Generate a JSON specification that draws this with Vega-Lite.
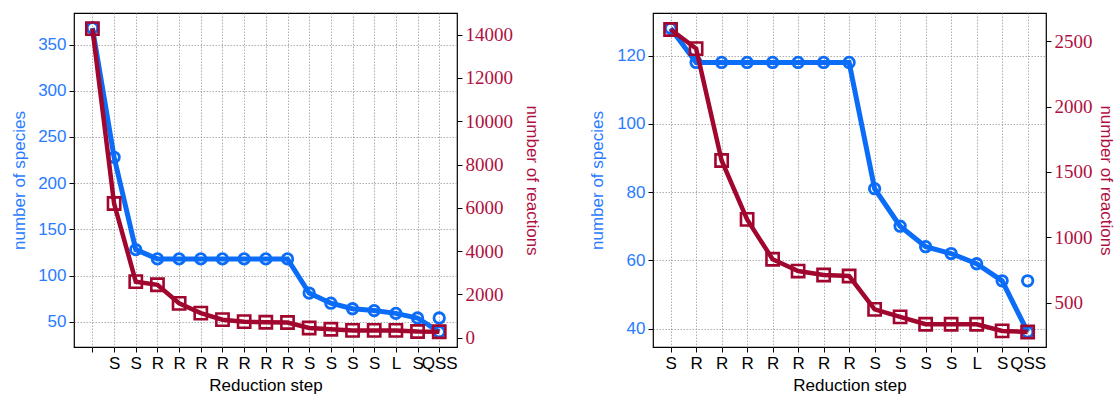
{
  "$schema": "https://vega.github.io/schema/vega-lite/v6.json",
  "padding": {"left": 10, "top": 12, "right": 0, "bottom": 0},
  "background": "white",
  "spacing": 46,
  "config": {
    "view": {"stroke": "black", "strokeWidth": 1.2},
    "font": "Liberation Sans",
    "axis": {
      "grid": true,
      "gridColor": "#9a9a9a",
      "gridDash": [1.5, 1.5],
      "gridWidth": 0.8,
      "domain": false,
      "tickColor": "black",
      "tickSize": 5,
      "tickWidth": 1,
      "labelPadding": 3,
      "labelOverlap": false,
      "labelFlush": false,
      "labelBound": false,
      "labelFont": "Liberation Sans",
      "labelFontSize": 17,
      "titleFont": "Liberation Sans",
      "titleFontSize": 17,
      "titleFontWeight": "normal"
    }
  },
  "hconcat": [
    {
      "width": 383,
      "height": 334,
      "data": {"values": [
        {"step": 0, "species": 368, "reactions": 14280},
        {"step": 1, "species": 228, "reactions": 6200},
        {"step": 2, "species": 128, "reactions": 2590},
        {"step": 3, "species": 118, "reactions": 2444},
        {"step": 4, "species": 118, "reactions": 1588},
        {"step": 5, "species": 118, "reactions": 1137},
        {"step": 6, "species": 118, "reactions": 832},
        {"step": 7, "species": 118, "reactions": 742},
        {"step": 8, "species": 118, "reactions": 712},
        {"step": 9, "species": 118, "reactions": 704},
        {"step": 10, "species": 81, "reactions": 449},
        {"step": 11, "species": 70, "reactions": 391},
        {"step": 12, "species": 64, "reactions": 335},
        {"step": 13, "species": 62, "reactions": 335},
        {"step": 14, "species": 59, "reactions": 335},
        {"step": 15, "species": 54, "reactions": 284},
        {"step": 16, "species": 39, "reactions": 276, "species_extra": 54}
      ]},
      "encoding": {
        "x": {
          "field": "step", "type": "quantitative",
          "scale": {"domain": [-0.85, 16.82], "nice": false, "zero": false},
          "axis": {
            "values": [0,1,2,3,4,5,6,7,8,9,10,11,12,13,14,15,16],
            "labelExpr": "['','S','S','R','R','R','R','R','R','R','S','S','S','S','L','S','QSS'][datum.value]",
            "title": "Reduction step",
            "labelColor": "black",
            "titleColor": "black",
            "titlePadding": 6
          }
        }
      },
      "layer": [
        {
          "encoding": {
            "y": {
              "field": "species", "type": "quantitative",
              "scale": {"domain": [22.6, 384.2], "nice": false, "zero": false},
              "axis": {"orient": "left", "values": [50,100,150,200,250,300,350], "title": "number of species",
                "labelColor": "#2a7bff", "titleColor": "#2a7bff", "titlePadding": 9}
            }
          },
          "layer": [
            {"mark": {"type": "line", "color": "#0a6cf7", "strokeWidth": 5}},
            {"mark": {"type": "point", "shape": "circle", "filled": false, "color": "#0a6cf7", "size": 110, "strokeWidth": 2.8, "opacity": 1}},
            {"mark": {"type": "point", "shape": "circle", "filled": false, "color": "#0a6cf7", "size": 110, "strokeWidth": 2.8, "opacity": 1},
             "encoding": {"y": {"field": "species_extra", "type": "quantitative", "title": "number of species"}}}
          ]
        },
        {
          "encoding": {
            "y": {
              "field": "reactions", "type": "quantitative",
              "scale": {"domain": [-430, 15000], "nice": false, "zero": false},
              "axis": {"orient": "right", "values": [0,2000,4000,6000,8000,10000,12000,14000], "format": "d",
                "title": "number of reactions", "labelFont": "Liberation Serif", "labelFontSize": 19,
                "labelColor": "#b0103f", "titleColor": "#b0103f", "titlePadding": 10}
            }
          },
          "layer": [
            {"mark": {"type": "line", "color": "#a0062e", "strokeWidth": 4.5}},
            {"mark": {"type": "point", "shape": "square", "filled": false, "color": "#a0062e", "size": 150, "strokeWidth": 2.6, "opacity": 1}}
          ]
        }
      ],
      "resolve": {"scale": {"y": "independent"}}
    },
    {
      "width": 393,
      "height": 334,
      "data": {"values": [
        {"step": 0, "species": 128, "reactions": 2590},
        {"step": 1, "species": 118, "reactions": 2444},
        {"step": 2, "species": 118, "reactions": 1588},
        {"step": 3, "species": 118, "reactions": 1137},
        {"step": 4, "species": 118, "reactions": 832},
        {"step": 5, "species": 118, "reactions": 742},
        {"step": 6, "species": 118, "reactions": 712},
        {"step": 7, "species": 118, "reactions": 704},
        {"step": 8, "species": 81, "reactions": 449},
        {"step": 9, "species": 70, "reactions": 391},
        {"step": 10, "species": 64, "reactions": 335},
        {"step": 11, "species": 62, "reactions": 335},
        {"step": 12, "species": 59, "reactions": 335},
        {"step": 13, "species": 54, "reactions": 284},
        {"step": 14, "species": 39, "reactions": 276, "species_extra": 54}
      ]},
      "encoding": {
        "x": {
          "field": "step", "type": "quantitative",
          "scale": {"domain": [-0.69, 14.72], "nice": false, "zero": false},
          "axis": {
            "values": [0,1,2,3,4,5,6,7,8,9,10,11,12,13,14],
            "labelExpr": "['S','R','R','R','R','R','R','R','S','S','S','S','L','S','QSS'][datum.value]",
            "title": "Reduction step",
            "labelColor": "black",
            "titleColor": "black",
            "titlePadding": 6
          }
        }
      },
      "layer": [
        {
          "encoding": {
            "y": {
              "field": "species", "type": "quantitative",
              "scale": {"domain": [34.6, 132.5], "nice": false, "zero": false},
              "axis": {"orient": "left", "values": [40,60,80,100,120], "title": "number of species",
                "labelColor": "#2a7bff", "titleColor": "#2a7bff", "titlePadding": 10}
            }
          },
          "layer": [
            {"mark": {"type": "line", "color": "#0a6cf7", "strokeWidth": 5}},
            {"mark": {"type": "point", "shape": "circle", "filled": false, "color": "#0a6cf7", "size": 110, "strokeWidth": 2.8, "opacity": 1}},
            {"mark": {"type": "point", "shape": "circle", "filled": false, "color": "#0a6cf7", "size": 110, "strokeWidth": 2.8, "opacity": 1},
             "encoding": {"y": {"field": "species_extra", "type": "quantitative", "title": "number of species"}}}
          ]
        },
        {
          "encoding": {
            "y": {
              "field": "reactions", "type": "quantitative",
              "scale": {"domain": [161, 2716], "nice": false, "zero": false},
              "axis": {"orient": "right", "values": [500,1000,1500,2000,2500], "format": "d",
                "title": "number of reactions", "labelFont": "Liberation Serif", "labelFontSize": 19,
                "labelColor": "#b0103f", "titleColor": "#b0103f", "titlePadding": 4}
            }
          },
          "layer": [
            {"mark": {"type": "line", "color": "#a0062e", "strokeWidth": 4.5}},
            {"mark": {"type": "point", "shape": "square", "filled": false, "color": "#a0062e", "size": 150, "strokeWidth": 2.6, "opacity": 1}}
          ]
        }
      ],
      "resolve": {"scale": {"y": "independent"}}
    }
  ]
}
